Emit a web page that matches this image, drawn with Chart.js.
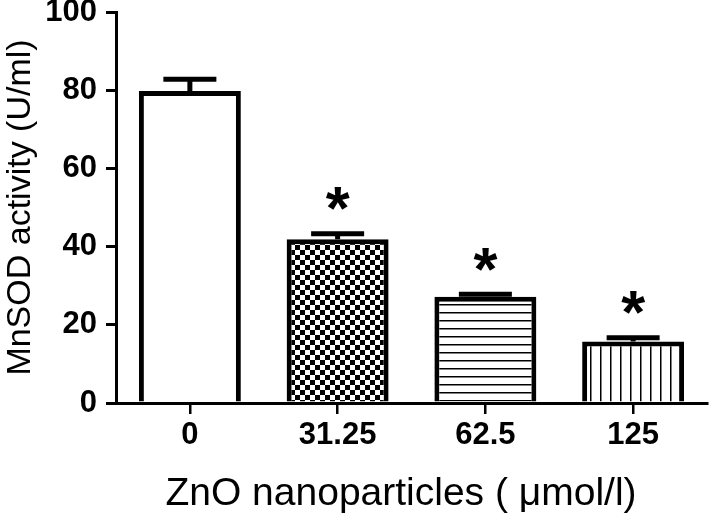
<!DOCTYPE html>
<html>
<head>
<meta charset="utf-8">
<script src="https://cdn.jsdelivr.net/npm/chart.js@4.4.1/dist/chart.umd.min.js"></script>
<style>
  html, body { margin: 0; padding: 0; background: #fff; }
  #wrap { width: 709px; height: 514px; }
</style>
</head>
<body>
<div id="wrap"><canvas id="chart" width="709" height="514"></canvas></div>
<script>
(function () {
  "use strict";

  // ── Data ──
  var categories = ["0", "31.25", "62.5", "125"];
  var meanValues = [79.8, 41.9, 27.2, 15.7];
  var semValues = [3.0, 1.4, 0.6, 1.0];
  var significant = [false, true, true, true];
  var yTicks = [0, 20, 40, 60, 80, 100];

  var FONT = "'Liberation Sans', Arial, Helvetica, sans-serif";

  // ── Fill patterns ──
  function makePattern(w, h, draw) {
    var tile = document.createElement("canvas");
    tile.width = w; tile.height = h;
    var t = tile.getContext("2d");
    t.fillStyle = "#fff";
    t.fillRect(0, 0, w, h);
    t.fillStyle = "#000";
    draw(t);
    return document.createElement("canvas").getContext("2d").createPattern(tile, "repeat");
  }
  var checker = makePattern(10, 10, function (t) {
    t.fillRect(0, 0, 5, 5);
    t.fillRect(5, 5, 5, 5);
  });
  var hLines = makePattern(8, 8, function (t) { t.fillRect(0, 0, 8, 1.5); });
  var vLines = makePattern(10, 10, function (t) { t.fillRect(0, 0, 1.5, 10); });

  // ── Error bars, asterisks and x title ──
  var decor = {
    id: "decor",
    afterDatasetsDraw: function (chart) {
      var ctx = chart.ctx, xs = chart.scales.x, ys = chart.scales.y;
      ctx.save();
      ctx.strokeStyle = "#000";
      ctx.fillStyle = "#000";
      ctx.lineWidth = 5;
      meanValues.forEach(function (v, i) {
        var cx = xs.getPixelForValue(i);
        var yTop = ys.getPixelForValue(v);
        var yErr = ys.getPixelForValue(v + semValues[i]);
        ctx.beginPath();
        ctx.moveTo(cx, yTop);
        ctx.lineTo(cx, yErr);
        ctx.moveTo(cx - 26.5, yErr);
        ctx.lineTo(cx + 26.5, yErr);
        ctx.stroke();
      });
      // asterisks sized to ~24px glyph width
      ctx.font = "bold 100px " + FONT;
      var m = ctx.measureText("*");
      var gw = m.actualBoundingBoxRight + m.actualBoundingBoxLeft;
      var size = 100 * 24 / gw;
      ctx.font = "bold " + size + "px " + FONT;
      m = ctx.measureText("*");
      ctx.textAlign = "center";
      ctx.textBaseline = "alphabetic";
      meanValues.forEach(function (v, i) {
        if (!significant[i]) return;
        var cx = xs.getPixelForValue(i);
        var yc = ys.getPixelForValue(v + semValues[i]) - 35;
        var base = yc + (m.actualBoundingBoxAscent - m.actualBoundingBoxDescent) / 2;
        ctx.fillText("*", cx, base);
      });
      ctx.restore();
    },
    afterDraw: function (chart) {
      var ctx = chart.ctx;
      ctx.save();
      ctx.fillStyle = "#000";
      ctx.font = "39px " + FONT;
      ctx.textAlign = "center";
      ctx.textBaseline = "alphabetic";
      ctx.fillText("ZnO nanoparticles ( \u03bcmol/l)", 401, 505);
      ctx.restore();
    }
  };

  new Chart(document.getElementById("chart"), {
    type: "bar",
    data: {
      labels: categories,
      datasets: [{
        data: meanValues,
        backgroundColor: ["#fff", checker, hLines, vLines],
        borderColor: "#000",
        borderWidth: 5,
        borderSkipped: "bottom",
        barPercentage: 0.69,
        categoryPercentage: 1
      }]
    },
    options: {
      responsive: false,
      animation: false,
      devicePixelRatio: 1,
      layout: { padding: { top: 12, right: 2, left: 0, bottom: 0 } },
      plugins: { legend: { display: false }, tooltip: { enabled: false } },
      scales: {
        x: {
          offset: true,
          z: 1,
          grid: { offset: false, drawOnChartArea: false, drawTicks: true, tickLength: 11, color: "#000", lineWidth: 2.5 },
          border: { display: true, color: "#000", width: 3 },
          ticks: { color: "#000", padding: 3, maxRotation: 0, autoSkip: false, font: { family: FONT, size: 31, weight: "bold" } },
          afterFit: function (s) { s.height = 111; s.paddingLeft = 0; s.paddingRight = 0; }
        },
        y: {
          min: 0,
          max: 100,
          z: 1,
          afterBuildTicks: function (s) { s.ticks = yTicks.map(function (v) { return { value: v }; }); },
          grid: { drawOnChartArea: false, drawTicks: true, tickLength: 10, color: "#000", lineWidth: 3 },
          border: { display: true, color: "#000", width: 3 },
          ticks: { color: "#000", padding: 9, font: { family: FONT, size: 31, weight: "bold" } },
          title: {
            display: true,
            text: "MnSOD activity (U/ml)",
            color: "#000",
            font: { family: FONT, size: 34, weight: "normal" },
            padding: { top: 0, bottom: 0 }
          },
          afterFit: function (s) { s.width = 116; s.paddingTop = 0; s.paddingBottom = 0; }
        }
      }
    },
    plugins: [decor]
  });
})();
</script>
</body>
</html>
